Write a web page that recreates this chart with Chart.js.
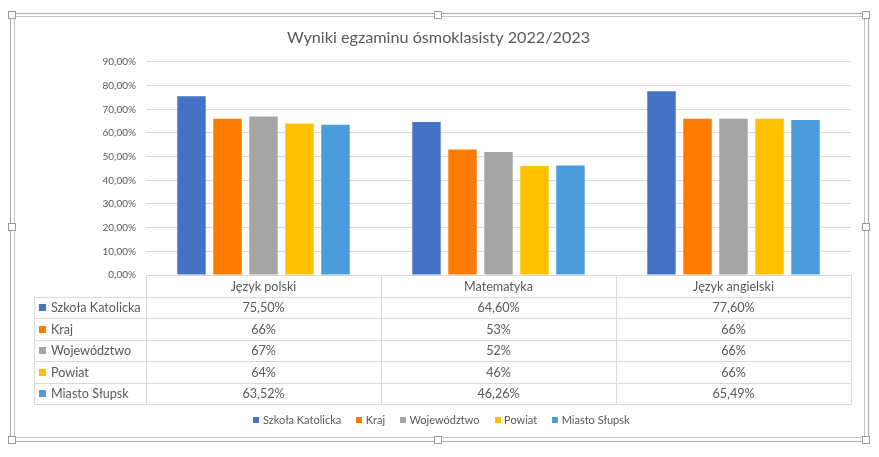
<!DOCTYPE html>
<html><head><meta charset="utf-8">
<script src="https://cdn.jsdelivr.net/npm/chart.js@4/dist/chart.umd.min.js"></script>
<style>html,body{margin:0;padding:0;background:#fff;overflow:hidden}#wrap{width:879px;height:457px;position:relative}</style>
</head><body><div id="wrap"><canvas id="c" width="879" height="457"></canvas></div>
<script>
const categories = ['Język polski', 'Matematyka', 'Język angielski'];
const seriesNames = ['Szkoła Katolicka', 'Kraj', 'Województwo', 'Powiat', 'Miasto Słupsk'];
const szkolaKatolicka = [75.50, 64.60, 77.60];
const kraj = [66, 53, 66];
const wojewodztwo = [67, 52, 66];
const powiat = [64, 46, 66];
const miastoSlupsk = [63.52, 46.26, 65.49];
const seriesColors = ['#4472C4', '#FF7B00', '#A5A5A5', '#FFC000', '#4C9BDB'];
const yMin = 0, yMax = 90, yStep = 10;
const titleText = 'Wyniki egzaminu ósmoklasisty 2022/2023';

const seriesValues = [szkolaKatolicka, kraj, wojewodztwo, powiat, miastoSlupsk];
const FONT = 'Lato, "Open Sans", sans-serif';
const TXT = '#595959';
const GRID = '#d9d9d9';

function fmtTable(v) {
  return Number.isInteger(v) ? v + '%' : v.toFixed(2).replace('.', ',') + '%';
}

const decor = {
  id: 'decor',
  beforeDraw(chart) {
    const ctx = chart.ctx;
    ctx.save();
    ctx.fillStyle = '#fff';
    ctx.fillRect(0, 0, chart.width, chart.height);
    ctx.strokeStyle = '#a9a9a9';
    ctx.lineWidth = 1;
    ctx.strokeRect(10.5, 13.5, 858, 428);
    ctx.strokeStyle = '#c4c4c4';
    ctx.strokeRect(14.5, 16.5, 850, 421);
    ctx.restore();
  },
  afterDraw(chart) {
    const ctx = chart.ctx;
    const ca = chart.chartArea;
    const xs = chart.scales.x;
    const n = categories.length;
    const colW = (ca.right - ca.left) / n;
    const top = ca.bottom;
    const headH = 21.5, rowH = 21.5;
    const labelLeft = 34;
    const tableBottom = top + headH + rowH * seriesNames.length;
    ctx.save();
    ctx.strokeStyle = GRID;
    ctx.lineWidth = 1;
    ctx.beginPath();
    ctx.moveTo(ca.left, Math.round(top) + 0.5); ctx.lineTo(ca.right, Math.round(top) + 0.5);
    for (let r = 0; r <= seriesNames.length; r++) {
      const y = Math.round(top + headH + r * rowH) + 0.5;
      ctx.moveTo(labelLeft, y); ctx.lineTo(ca.right, y);
    }
    for (let c = 0; c <= n; c++) {
      const x = Math.round(ca.left + c * colW) + 0.5;
      ctx.moveTo(x, top); ctx.lineTo(x, tableBottom + 0.5);
    }
    ctx.moveTo(labelLeft + 0.5, top + headH); ctx.lineTo(labelLeft + 0.5, tableBottom + 0.5);
    ctx.stroke();

    ctx.fillStyle = TXT;
    ctx.textAlign = 'center';
    ctx.textBaseline = 'middle';
    ctx.font = '12.6px ' + FONT;
    categories.forEach((c, i) => {
      const cx = xs.getPixelForValue(i);
      ctx.fillText(c, cx, top + headH / 2 + 1);
    });
    seriesNames.forEach((s, r) => {
      const cy = top + headH + r * rowH + rowH / 2 + 1;
      ctx.fillStyle = seriesColors[r];
      ctx.fillRect(39, Math.round(cy - 4), 7, 7);
      ctx.fillStyle = TXT;
      ctx.textAlign = 'left';
      ctx.fillText(s, 51, cy);
      ctx.textAlign = 'center';
      seriesValues[r].forEach((v, i) => {
        ctx.fillText(fmtTable(v), xs.getPixelForValue(i), cy);
      });
    });

    // bottom legend
    ctx.font = '11px ' + FONT;
    const box = 6, gapT = 3.5, gapI = 15;
    const widths = seriesNames.map(s => ctx.measureText(s).width);
    const total = widths.reduce((a, w) => a + box + gapT + w, 0) + gapI * (seriesNames.length - 1);
    let x = 441.5 - total / 2;
    const ly = 420;
    ctx.textAlign = 'left';
    seriesNames.forEach((s, i) => {
      ctx.fillStyle = seriesColors[i];
      ctx.fillRect(Math.round(x), ly - 3, box, box);
      ctx.fillStyle = TXT;
      ctx.fillText(s, x + box + gapT, ly + 0.5);
      x += box + gapT + widths[i] + gapI;
    });

    // selection handles
    const hs = [[12, 15], [438, 15], [866, 15], [12, 227], [866, 227], [12, 440], [438, 440], [866, 440]];
    ctx.fillStyle = '#fff';
    ctx.strokeStyle = '#9a9a9a';
    hs.forEach(([hx, hy]) => {
      ctx.fillRect(hx - 4, hy - 4, 8, 8);
      ctx.strokeRect(hx - 3.5, hy - 3.5, 7, 7);
    });
    ctx.restore();
  }
};

new Chart(document.getElementById('c'), {
  type: 'bar',
  data: {
    labels: categories,
    datasets: seriesNames.map((name, i) => ({
      label: name,
      data: seriesValues[i],
      backgroundColor: seriesColors[i],
      borderWidth: 0,
      categoryPercentage: 0.766,
      barPercentage: 0.79
    }))
  },
  options: {
    responsive: false,
    animation: false,
    devicePixelRatio: 1,
    layout: { padding: { left: 26, right: 28, top: 0, bottom: 182 } },
    plugins: {
      legend: { display: false },
      tooltip: { enabled: false },
      title: {
        display: true,
        text: titleText,
        color: TXT,
        font: { family: FONT, size: 16.2, weight: 'normal' },
        padding: { top: 28.5, bottom: 14.0 }
      }
    },
    scales: {
      x: { display: false },
      y: {
        min: yMin, max: yMax,
        afterFit(s) { s.width = 120; },
        border: { display: false },
        grid: { color: GRID, drawTicks: false, lineWidth: 1 },
        ticks: {
          stepSize: yStep,
          padding: 10,
          color: TXT,
          font: { family: FONT, size: 10 },
          callback: v => v.toFixed(2).replace('.', ',') + '%'
        }
      }
    }
  },
  plugins: [decor]
});
</script>
</body></html>
